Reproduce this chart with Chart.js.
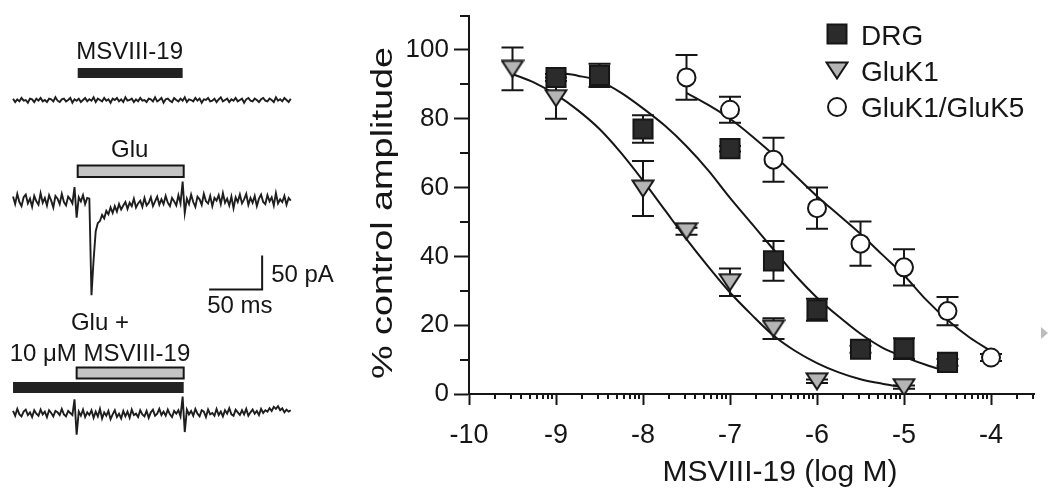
<!DOCTYPE html>
<html>
<head>
<meta charset="utf-8">
<script src="https://cdn.jsdelivr.net/npm/chart.js@4.4.1/dist/chart.umd.min.js"></script>
<style>
  html, body { margin: 0; padding: 0; background: #fff; }
  #wrap { position: relative; width: 1050px; height: 494px; overflow: hidden; }
  #traces { position: absolute; left: 0; top: 0; }
  #dose { position: absolute; left: 355px; top: 0; }
</style>
</head>
<body>
<div id="wrap">
  <canvas id="traces" width="355" height="494"></canvas>
  <canvas id="dose" width="695" height="494"></canvas>
</div>
<script>
// ---- dose-response data (x = log M, y = % control amplitude) ----
var drgX   = [-9, -8.5, -8, -7, -6.5, -6, -5.5, -5, -4.5];
var drgY   = [92, 92.6, 77, 71.3, 38.7, 24.5, 13, 13.2, 9.2];
var drgErr = [1, 3.4, 4, 0.8, 5.8, 3.2, 1, 3, 1];

var gluk1X   = [-9.5, -9, -8, -7.5, -7, -6.5, -6, -5];
var gluk1Y   = [94.5, 86, 59.7, 47.3, 32.5, 19, 3.7, 2];
var gluk1Err = [6.2, 6, 8, 1, 4, 3, 0.5, 0.5];

var gluk5X   = [-7.5, -7, -6.5, -6, -5.5, -5, -4.5, -4];
var gluk5Y   = [92, 82.6, 68.1, 54, 43.7, 36.8, 24.1, 10.6];
var gluk5Err = [6.5, 3.8, 6.4, 6, 6.4, 5.3, 4.1, 1];

// fitted curves
var drgFitX = [-9, -8.75, -8.5, -8.25, -8, -7.75, -7.5, -7.25, -7, -6.75, -6.5, -6.25, -6, -5.75, -5.5, -5.25, -5, -4.75, -4.5];
var drgFitY = [93.5, 92.5, 91, 87.5, 83, 78, 72, 65, 57, 49.5, 42, 34.5, 28, 22.5, 17.5, 13.5, 10.8, 8.5, 6.5];
var gluk1FitX = [-9.5, -9.25, -9, -8.75, -8.5, -8.25, -8, -7.75, -7.5, -7.25, -7, -6.75, -6.5, -6.25, -6, -5.75, -5.5, -5.25, -5];
var gluk1FitY = [93, 90.5, 87, 82.5, 77, 70, 62, 53.5, 45, 37, 29.5, 23, 17, 12.5, 9, 6.3, 4.3, 3, 2];
var gluk5FitX = [-7.5, -7.25, -7, -6.75, -6.5, -6.25, -6, -5.75, -5.5, -5.25, -5, -4.75, -4.5, -4.25, -4];
var gluk5FitY = [87.5, 84, 80, 75, 69.5, 63.5, 57.5, 52, 46.5, 40.5, 34.5, 27.5, 21.5, 16.5, 12.5];

var xTicks = [-10, -9, -8, -7, -6, -5, -4];
var yTicks = [0, 20, 40, 60, 80, 100];
var yMinorTicks = [10, 30, 50, 70, 90, 110];
var legendLabels = ['DRG', 'GluK1', 'GluK1/GluK5'];

// ---- current traces (pA, one sample every 2 ms) ----
var sampleMs = 2;
var traceMsvOnly = [
  2,-3,1,-2,3,-1,0,-4,2,1,-3,2,
  -1,3,-2,0,-3,2,1,-2,4,-1,-3,1,
  2,-2,0,3,-4,1,-1,2,-3,0,3,-2,
  1,-1,4,-3,2,0,-2,3,-1,1,-4,2,
  0,3,-2,1,-3,4,-1,0,2,-3,1,-2,
  3,-1,0,-3,2,1,-2,4,-2,0,3,-4,
  1,2,-1,-3,3,0,-2,2,-1,4,-3,1,
  0,-2,3,-1,2,-4,1,0,3,-2,-1,2,
  -3,1,4,-2,0,2,-3,1,-1,3,-2,0,
  2,-4,1,3,-1,-2,2,0,-3,1,3,-1,
  -2,2,0,-3,4,-1,1,-2,3,0,-3,2
];
var traceGlu = [
  5,-6,9,-3,-9,4,8,-5,2,-10,6,-2,
  -7,10,-4,3,-8,7,-1,-11,6,2,-6,9,
  -3,-8,5,1,-5,19,-26,4,-2,7,-6,3,
  2,-140,-88,-46,
  -34,-31,-22,-27,-16,-21,-11,-19,
  -9,-17,-6,-14,-8,-3,-13,-4,-9,2,-11,-5,
  -1,-10,3,-8,-4,4,-9,-2,5,-7,1,-6,
  6,-4,-9,3,-2,-8,7,-5,27,-19,2,-6,
  8,-3,-10,5,1,-7,9,-2,-5,6,-9,3,
  -1,7,-6,10,-4,2,-8,5,-12,4,-3,8,
  -5,1,9,-7,3,-4,6,-9,2,8,-3,-6,
  7,-2,4,-8,10,-5,1,-3,6,-7,3,-1
];
var traceGluMsv = [
  3,-4,6,-2,-5,2,5,-3,1,-6,4,-1,
  -4,5,-2,2,-6,4,0,-5,3,1,-3,6,
  -2,-5,3,0,-3,20,-32,2,-4,5,-6,1,
  -3,4,-7,2,-5,6,-8,1,-4,3,-9,-2,
  4,-6,-1,-8,3,-5,2,-7,5,-3,-1,-6,
  4,-2,-5,3,-7,1,5,-4,-1,6,-3,2,
  -4,5,-2,-6,3,-1,4,-5,24,-28,5,-2,
  3,-4,6,-1,-5,4,2,-6,5,-2,0,-4,
  6,-3,2,-5,4,-1,7,-2,-4,5,1,-3,
  4,-2,6,-4,1,5,-1,3,-3,6,0,4,
  2,7,3,9,6,10,4,7,1,5,2,4
];

var FONT = "'Liberation Sans', Arial, Helvetica, sans-serif";
var ink = '#161616';
Chart.defaults.font.family = FONT;
Chart.defaults.color = ink;

// layout of the trace panel (pixels / scale factors)
var pxPerMs = 1.06, pxPerPA = 0.68;
var traceRowsPx = [100, 200, 413];

function toPoints(values, rowPx) {
  var off = -rowPx / pxPerPA;
  return values.map(function (v, i) { return { x: i * sampleMs, y: off + v }; });
}

var tracePanel = {
  id: 'tracePanel',
  afterDatasetsDraw: function (chart) {
    var ctx = chart.ctx, x = chart.scales.x, y = chart.scales.y;
    ctx.save();
    var bars = [
      { from: 61, to: 160, top: 68, h: 10, fill: '#222', outline: false },
      { from: 61, to: 161, top: 165.5, h: 11.5, fill: '#c4c4c4', outline: true },
      { from: 60, to: 161, top: 367.5, h: 11, fill: '#c4c4c4', outline: true },
      { from: 0, to: 161, top: 382, h: 11, fill: '#222', outline: false }
    ];
    bars.forEach(function (b) {
      var x0 = x.getPixelForValue(b.from), x1 = x.getPixelForValue(b.to);
      ctx.fillStyle = b.fill;
      ctx.fillRect(x0, b.top, x1 - x0, b.h);
      if (b.outline) {
        ctx.lineWidth = 2; ctx.strokeStyle = ink;
        ctx.strokeRect(x0, b.top, x1 - x0, b.h);
      }
    });

    ctx.fillStyle = ink;
    ctx.font = '24px ' + FONT;
    ctx.textBaseline = 'alphabetic';
    ctx.textAlign = 'center';
    ctx.fillText('MSVIII-19', x.getPixelForValue(110), 59);
    ctx.fillText('Glu', x.getPixelForValue(110), 157);
    ctx.fillText('Glu +', x.getPixelForValue(82), 330);
    ctx.fillText('10 \u03bcM MSVIII-19', x.getPixelForValue(82), 361);

    // scale bar: 50 ms x 50 pA
    var base = -289.5 / pxPerPA;
    var xa = x.getPixelForValue(185), xb = x.getPixelForValue(235);
    var yb = y.getPixelForValue(base), yt = y.getPixelForValue(base + 50);
    ctx.lineWidth = 2; ctx.strokeStyle = ink;
    ctx.beginPath();
    ctx.moveTo(xa, yb); ctx.lineTo(xb, yb); ctx.lineTo(xb, yt);
    ctx.stroke();
    ctx.textAlign = 'left';
    ctx.fillText('50 pA', xb + 9, 282);
    ctx.fillText('50 ms', xa - 2, 313);
    ctx.restore();
  }
};

function traceSet(values, row) {
  return {
    data: toPoints(values, row),
    borderColor: '#1e1e1e', borderWidth: 1.9,
    pointRadius: 0, tension: 0, fill: false
  };
}

new Chart(document.getElementById('traces').getContext('2d'), {
  type: 'line',
  data: { datasets: [
    traceSet(traceMsvOnly, traceRowsPx[0]),
    traceSet(traceGlu, traceRowsPx[1]),
    traceSet(traceGluMsv, traceRowsPx[2])
  ] },
  options: {
    responsive: false, animation: false, events: [],
    layout: { padding: 0 },
    plugins: { legend: { display: false }, tooltip: { enabled: false } },
    scales: {
      x: { type: 'linear', display: false, min: -12.3, max: -12.3 + 355 / pxPerMs },
      y: { type: 'linear', display: false, min: -494 / pxPerPA, max: 0 }
    }
  },
  plugins: [tracePanel]
});

// ---- dose-response panel ----
function makeTriangle() {
  var c = document.createElement('canvas');
  c.width = 24; c.height = 19;
  var g = c.getContext('2d');
  g.beginPath();
  g.moveTo(1.5, 1.5); g.lineTo(22.5, 1.5); g.lineTo(12, 17.5); g.closePath();
  g.fillStyle = '#b5b5b5'; g.fill();
  g.lineWidth = 2; g.strokeStyle = ink; g.lineJoin = 'miter'; g.stroke();
  return c;
}
var triangleImg = makeTriangle();

function xy(xs, ys) {
  return xs.map(function (v, i) { return { x: v, y: ys[i] }; });
}

var errorSeries = [
  [drgX, drgY, drgErr], [gluk1X, gluk1Y, gluk1Err], [gluk5X, gluk5Y, gluk5Err]
];

var doseExtras = {
  id: 'doseExtras',
  beforeDatasetsDraw: function (chart) {
    var ctx = chart.ctx, x = chart.scales.x, y = chart.scales.y;
    ctx.save();
    ctx.strokeStyle = ink; ctx.lineWidth = 2;
    errorSeries.forEach(function (s) {
      s[0].forEach(function (xv, i) {
        var px = x.getPixelForValue(xv);
        var t = y.getPixelForValue(s[1][i] + s[2][i]);
        var b = y.getPixelForValue(s[1][i] - s[2][i]);
        ctx.beginPath();
        ctx.moveTo(px, t); ctx.lineTo(px, b);
        ctx.moveTo(px - 11, t); ctx.lineTo(px + 11, t);
        ctx.moveTo(px - 11, b); ctx.lineTo(px + 11, b);
        ctx.stroke();
      });
    });
    ctx.restore();
  },
  afterDraw: function (chart) {
    var ctx = chart.ctx, x = chart.scales.x, y = chart.scales.y, area = chart.chartArea;
    ctx.save();
    ctx.strokeStyle = ink; ctx.lineWidth = 2;
    // minor log ticks on x
    ctx.beginPath();
    for (var d = -10; d < -3; d++) {
      for (var k = 2; k <= 9; k++) {
        var v = d + Math.log10(k);
        if (v > x.max) continue;
        var px = Math.round(x.getPixelForValue(v));
        ctx.moveTo(px, area.bottom); ctx.lineTo(px, area.bottom + 5);
      }
    }
    // minor ticks on y
    yMinorTicks.forEach(function (v) {
      var py = Math.round(y.getPixelForValue(v));
      ctx.moveTo(area.left - 9, py); ctx.lineTo(area.left, py);
    });
    ctx.stroke();

    // axis titles
    ctx.fillStyle = ink;
    ctx.font = '30px ' + FONT;
    ctx.textAlign = 'center';
    ctx.textBaseline = 'alphabetic';
    ctx.fillText('MSVIII-19 (log M)', 425, 481);
    var yt = '% control amplitude';
    var sx = 332 / ctx.measureText(yt).width;
    ctx.save();
    ctx.translate(37, 213);
    ctx.rotate(-Math.PI / 2);
    ctx.scale(sx, 1);
    ctx.fillText(yt, 0, 0);
    ctx.restore();

    // legend
    ctx.lineWidth = 2;
    ctx.fillStyle = '#2b2b2b';
    ctx.fillRect(472.5, 24.5, 19, 19);
    ctx.strokeRect(472.5, 24.5, 19, 19);
    ctx.drawImage(triangleImg, 482 - 12, 61);
    ctx.beginPath();
    ctx.arc(482, 107, 9, 0, Math.PI * 2);
    ctx.fillStyle = '#fff'; ctx.fill(); ctx.stroke();
    ctx.fillStyle = ink;
    ctx.font = '28px ' + FONT;
    ctx.textAlign = 'left';
    ctx.fillText(legendLabels[0], 506, 45);
    ctx.fillText(legendLabels[1], 506, 80.5);
    ctx.fillText(legendLabels[2], 506, 116.5);

    // small grey marker at the right edge
    ctx.fillStyle = '#bdbdbd';
    ctx.beginPath();
    ctx.moveTo(686, 327); ctx.lineTo(693, 333); ctx.lineTo(686, 339); ctx.closePath();
    ctx.fill();
    ctx.restore();
  }
};

function fitSet(xs, ys) {
  return {
    data: xy(xs, ys), order: 2,
    borderColor: ink, borderWidth: 2, pointRadius: 0,
    cubicInterpolationMode: 'monotone', fill: false
  };
}

new Chart(document.getElementById('dose').getContext('2d'), {
  type: 'line',
  data: { datasets: [
    fitSet(drgFitX, drgFitY),
    fitSet(gluk1FitX, gluk1FitY),
    fitSet(gluk5FitX, gluk5FitY),
    { label: legendLabels[0], data: xy(drgX, drgY), order: 1, showLine: false,
      pointStyle: 'rect', pointRadius: 13.5, pointBackgroundColor: '#2b2b2b',
      pointBorderColor: ink, pointBorderWidth: 2 },
    { label: legendLabels[1], data: xy(gluk1X, gluk1Y), order: 1, showLine: false,
      pointStyle: triangleImg, pointRadius: 10 },
    { label: legendLabels[2], data: xy(gluk5X, gluk5Y), order: 1, showLine: false,
      pointStyle: 'circle', pointRadius: 9, pointBackgroundColor: '#fff',
      pointBorderColor: ink, pointBorderWidth: 2 }
  ] },
  options: {
    responsive: false, animation: false, events: [],
    layout: { padding: { left: 0, right: 11, top: 13, bottom: 0 } },
    plugins: { legend: { display: false }, tooltip: { enabled: false } },
    scales: {
      x: {
        type: 'linear', min: -10, max: -3.5,
        afterBuildTicks: function (s) { s.ticks = xTicks.map(function (v) { return { value: v }; }); },
        afterFit: function (s) { s.height = 100; s.paddingLeft = 0; s.paddingRight = 0; },
        grid: { drawOnChartArea: false, tickLength: 11, tickWidth: 2, tickColor: ink },
        border: { color: ink, width: 2 },
        ticks: { font: { size: 27 }, color: ink, padding: 14, maxRotation: 0, autoSkip: false,
                 callback: function (v) { return String(v); } }
      },
      y: {
        type: 'linear', min: 0, max: 110,
        afterBuildTicks: function (s) { s.ticks = yTicks.map(function (v) { return { value: v }; }); },
        afterFit: function (s) { s.width = 114; s.paddingTop = 0; s.paddingBottom = 0; },
        grid: { drawOnChartArea: false, tickLength: 15, tickWidth: 2, tickColor: ink },
        border: { color: ink, width: 2 },
        ticks: { font: { size: 26 }, color: ink, padding: 5,
                 callback: function (v) { return String(v); } }
      }
    }
  },
  plugins: [doseExtras]
});
</script>
</body>
</html>
